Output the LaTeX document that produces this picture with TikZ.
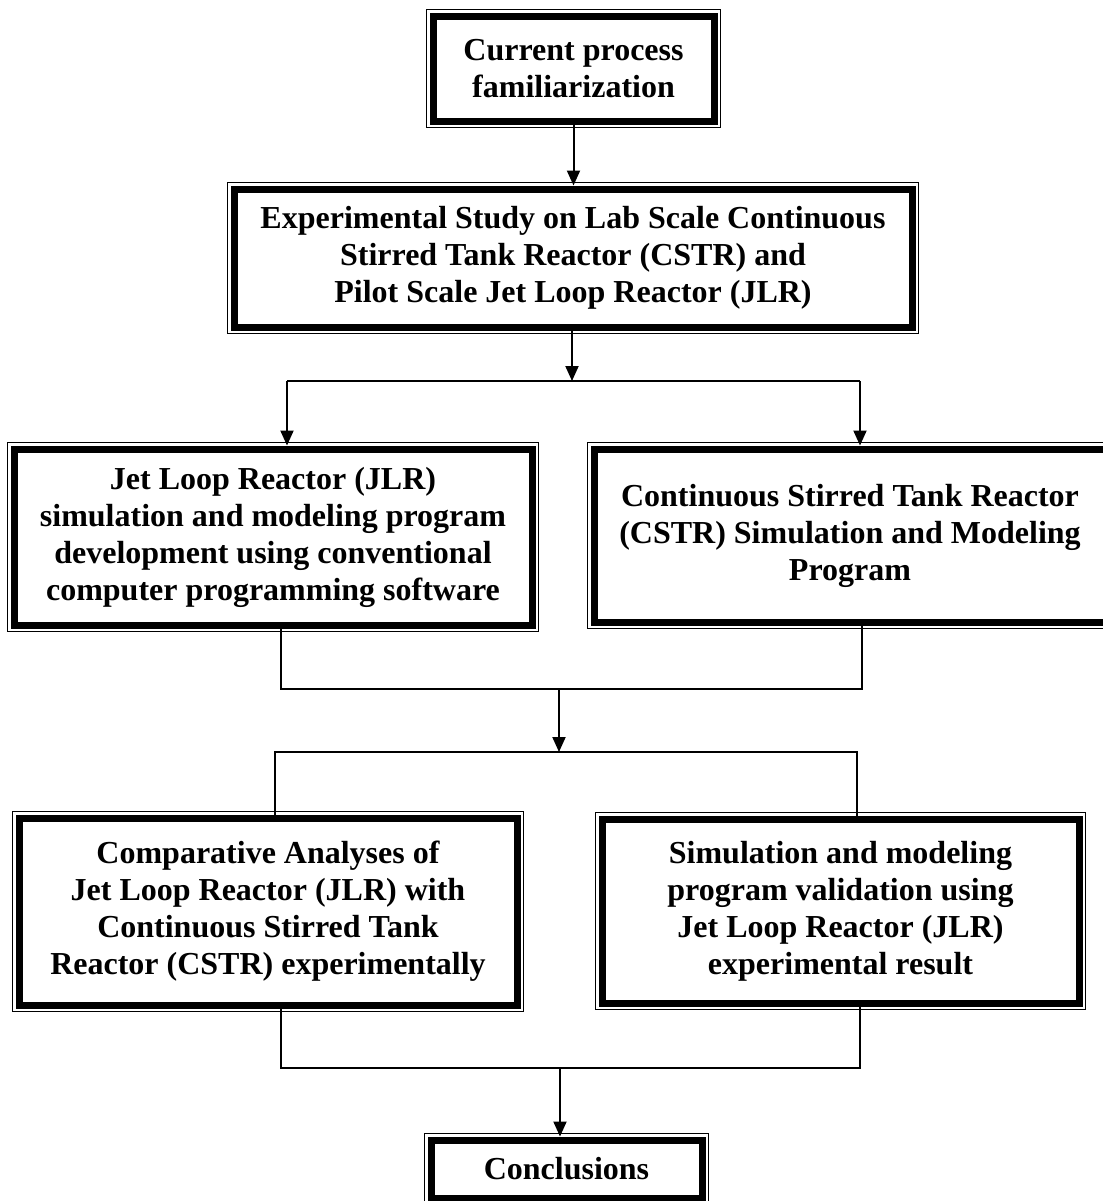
\documentclass[tikz,border=0pt]{standalone}
\usepackage{fontspec}
\setmainfont{Liberation Serif}
\usetikzlibrary{arrows.meta}

\begin{document}
\begin{tikzpicture}[x=0.5pt,y=-0.5pt,
    stagebox/.style={draw,line width=3.5pt,outer sep=1.75pt,inner sep=0pt,align=center,
      font=\fontsize{16}{18.5}\selectfont\bfseries},
    link/.style={line width=1pt},
    flow/.style={link,-{Triangle[width=6.5pt,length=7.5pt]}}]
  \useasboundingbox (0,0) rectangle (1103,1201);
  \draw (573.5,68.5) node[stagebox,minimum width=140.5pt,minimum height=52.5pt](cur){Current process\\familiarization};
  \draw (573,258) node[stagebox,minimum width=339pt,minimum height=69pt](exp){Experimental Study on Lab Scale Continuous\\Stirred Tank Reactor (CSTR) and\\Pilot Scale Jet Loop Reactor (JLR)};
  \draw (273,537) node[stagebox,minimum width=259pt,minimum height=88pt](jlr){Jet Loop Reactor (JLR)\\simulation and modeling program\\development using conventional\\computer programming software};
  \draw (850,535.5) node[stagebox,minimum width=256pt,minimum height=86.5pt](cstr){Continuous Stirred Tank Reactor\\(CSTR) Simulation and Modeling\\Program};
  \draw (268,911.5) node[stagebox,minimum width=249pt,minimum height=93.5pt](comp){Comparative Analyses of\\Jet Loop Reactor (JLR) with\\Continuous Stirred Tank\\Reactor (CSTR) experimentally};
  \draw (840.5,911) node[stagebox,minimum width=238.5pt,minimum height=92pt](valid){Simulation and modeling\\program validation using\\Jet Loop Reactor (JLR)\\experimental result};
  \draw (566.5,1169) node[stagebox,minimum width=135.5pt,minimum height=29pt](concl){Conclusions};
  \foreach \b in {cur,exp,jlr,cstr,comp,valid,concl}
    \draw[line width=0.75pt] ([shift={(-1.4pt,1.4pt)}]\b.north west) rectangle ([shift={(1.4pt,-1.4pt)}]\b.south east);

  \coordinate (j1) at (572,381);
  \coordinate (j1l) at (287,381);
  \coordinate (j1r) at (860,381);
  \coordinate (j2) at (559,689);
  \coordinate (j2l) at (281,689);
  \coordinate (j2r) at (862,689);
  \coordinate (j3) at (559,752);
  \coordinate (j3l) at (275,752);
  \coordinate (j3r) at (857,752);
  \coordinate (j4) at (560,1068);
  \coordinate (j4l) at (281,1068);
  \coordinate (j4r) at (860,1068);

  \draw[flow] (cur) -- (cur |- exp.north);
  \draw[flow] (exp.south -| j1) -- (j1);
  \draw[link] (j1l) -- (j1r);
  \draw[flow] (j1l) -- (j1l |- jlr.north);
  \draw[flow] (j1r) -- (j1r |- cstr.north);
  \draw[link] (jlr.south -| j2l) -- (j2l) -- (j2r) -- (cstr.south -| j2r);
  \draw[flow] (j2) -- (j3);
  \draw[link] (comp.north -| j3l) -- (j3l) -- (j3r) -- (valid.north -| j3r);
  \draw[link] (comp.south -| j4l) -- (j4l) -- (j4r) -- (valid.south -| j4r);
  \draw[flow] (j4) -- (j4 |- concl.north);
\end{tikzpicture}
\end{document}
